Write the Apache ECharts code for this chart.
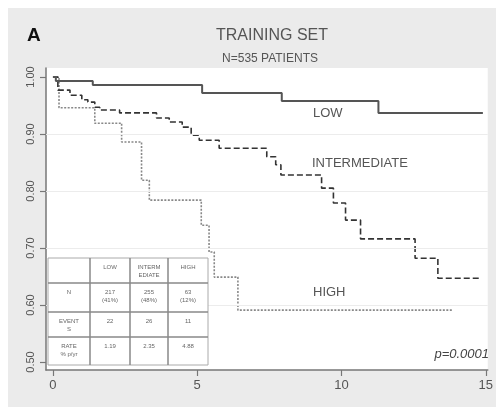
<!DOCTYPE html>
<html><head><meta charset="utf-8">
<script src="https://cdn.jsdelivr.net/npm/echarts@6/dist/echarts.min.js"></script>
<style>
html,body{margin:0;padding:0;background:#fff}
#c{width:496px;height:407px;background:linear-gradient(to right,#fff 8px,transparent 8px),linear-gradient(to bottom,#fff 8px,#ebebeb 8px);}
</style>
</head><body><div id="c"></div>
<script>
// Kaplan-Meier step data (time in years, survival probability)
const lowT  = [0, 0.1, 1.38, 5.17, 7.93, 11.28, 14.9];
const lowS  = [1.0, 0.993, 0.986, 0.972, 0.958, 0.937, 0.937];
const intT  = [0, 0.17, 0.59, 1.0, 1.21, 1.45, 1.62, 2.31, 3.59, 4.03, 4.48, 4.79, 5.07, 5.76, 7.41, 7.72, 7.9, 9.31, 9.72, 10.14, 10.66, 12.55, 13.34, 14.79];
const intS  = [1.0, 0.977, 0.968, 0.960, 0.956, 0.947, 0.942, 0.937, 0.928, 0.921, 0.912, 0.898, 0.889, 0.875, 0.860, 0.846, 0.828, 0.805, 0.779, 0.749, 0.716, 0.682, 0.647, 0.647];
const highT = [0, 0.21, 1.45, 2.38, 3.07, 3.34, 5.14, 5.41, 5.59, 6.41, 13.86];
const highS = [1.0, 0.946, 0.919, 0.886, 0.819, 0.784, 0.740, 0.693, 0.649, 0.591, 0.591];

const xTicks = [0, 5, 10, 15];
const yTicks = [0.5, 0.6, 0.7, 0.8, 0.9, 1.0];

const tableHeader = ['', 'LOW', 'INTERM\nEDIATE', 'HIGH'];
const tableRows = [
  ['N', '217\n(41%)', '255\n(48%)', '63\n(12%)'],
  ['EVENT\nS', '22', '26', '11'],
  ['RATE\n% p/yr', '1.19', '2.35', '4.88']
];

const zip = (a, b) => a.map((v, i) => [v, b[i]]);
const FONT = 'Liberation Sans, Arial, sans-serif';

// table graphics
const colX = [48, 90, 130, 168, 208];
const rowY = [258, 283, 312, 337, 365];
const tableG = [];
tableG.push({type:'rect', shape:{x:colX[0], y:rowY[0], width:colX[4]-colX[0], height:rowY[4]-rowY[0]},
  style:{fill:'#fff', stroke:'#aaa', lineWidth:1}, z:50});
for (let i = 1; i < colX.length - 1; i++) {
  tableG.push({type:'line', shape:{x1:colX[i], y1:rowY[0], x2:colX[i], y2:rowY[4]}, style:{stroke:'#888', lineWidth:1.5}, z:51});
}
for (let j = 1; j < rowY.length - 1; j++) {
  tableG.push({type:'line', shape:{x1:colX[0], y1:rowY[j], x2:colX[4], y2:rowY[j]}, style:{stroke:'#888', lineWidth:1.5}, z:51});
}
const allRows = [tableHeader].concat(tableRows);
allRows.forEach((row, r) => {
  row.forEach((txt, c) => {
    if (!txt) return;
    tableG.push({type:'text', x:(colX[c]+colX[c+1])/2, y:rowY[r]+6, z:52,
      style:{text:txt, fontSize:6, fontFamily:FONT, fill:'#666', align:'center', verticalAlign:'top', lineHeight:7.5}});
  });
});

const chart = echarts.init(document.getElementById('c'), null, {renderer:'canvas'});
chart.setOption({
  backgroundColor: 'transparent',
  animation: false,
  grid: {left:46, right:6, top:68, bottom:37, show:true, backgroundColor:'#fff', borderWidth:0},
  xAxis: {
    type:'value', min:-0.241, max:15.069,
    axisLine:{show:true, onZero:false, lineStyle:{color:'#777', width:1.5}},
    axisTick:{show:true, customValues:xTicks, length:6, lineStyle:{color:'#777', width:1.2}},
    axisLabel:{customValues:xTicks, margin:9, color:'#555', fontSize:13, fontFamily:FONT},
    splitLine:{show:false}
  },
  yAxis: {
    type:'value', min:0.486, max:1.0158,
    axisLine:{show:true, onZero:false, lineStyle:{color:'#777', width:1.5}},
    axisTick:{show:true, customValues:yTicks, length:6, lineStyle:{color:'#777', width:1.2}},
    axisLabel:{customValues:yTicks, rotate:90, margin:10, color:'#555', fontSize:11, fontFamily:FONT,
      formatter: v => Number(v).toFixed(2)},
    splitLine:{show:false}
  },
  series: [
    {type:'line', name:'HIGH', step:'end', showSymbol:false, data:zip(highT, highS),
      lineStyle:{color:'#888', width:1.6, type:[2,1.5]},
      markLine:{silent:true, symbol:'none', label:{show:false},
        lineStyle:{color:'#ececec', width:1, type:'solid'},
        data: yTicks.slice(1, 5).map(v => ({yAxis:v}))}},
    {type:'line', name:'INTERMEDIATE', step:'end', showSymbol:false, data:zip(intT, intS),
      lineStyle:{color:'#333', width:1.6, type:[6,3]}},
    {type:'line', name:'LOW', step:'end', showSymbol:false, data:zip(lowT, lowS),
      lineStyle:{color:'#555', width:2, type:'solid'}}
  ],
  graphic: [
    {type:'text', x:27, y:36, style:{text:'A', fontSize:19, fontWeight:'bold', fontFamily:FONT, fill:'#111', align:'left', verticalAlign:'middle'}},
    {type:'text', x:272, y:36, style:{text:'TRAINING SET', fontSize:16, fontFamily:FONT, fill:'#555', align:'center', verticalAlign:'middle'}},
    {type:'text', x:270, y:59, style:{text:'N=535 PATIENTS', fontSize:12, fontFamily:FONT, fill:'#555', align:'center', verticalAlign:'middle'}},
    {type:'text', x:313, y:113, z:60, style:{text:'LOW', fontSize:13, fontFamily:FONT, fill:'#555', align:'left', verticalAlign:'middle'}},
    {type:'text', x:312, y:163, z:60, style:{text:'INTERMEDIATE', fontSize:13, fontFamily:FONT, fill:'#555', align:'left', verticalAlign:'middle'}},
    {type:'text', x:313, y:292, z:60, style:{text:'HIGH', fontSize:13, fontFamily:FONT, fill:'#555', align:'left', verticalAlign:'middle'}},
    {type:'text', x:489, y:354, z:60, style:{text:'p=0.0001', fontSize:13, fontStyle:'italic', fontFamily:FONT, fill:'#444', align:'right', verticalAlign:'middle'}}
  ].concat(tableG)
});
</script>
</body></html>
